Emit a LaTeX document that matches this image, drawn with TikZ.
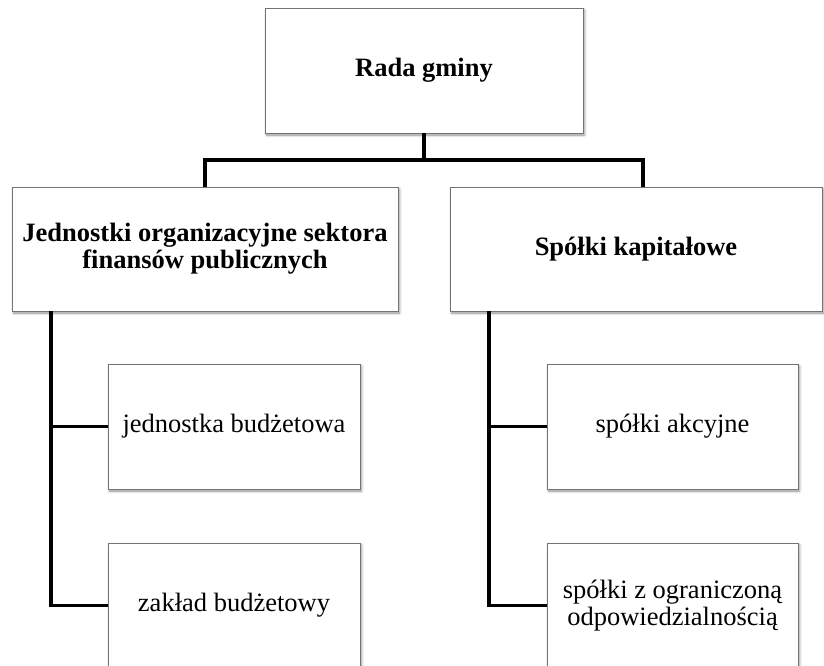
\documentclass[tikz,border=0pt]{standalone}
\usepackage{fontspec}
\setmainfont{Liberation Serif}
\usetikzlibrary{shadows.blur}
\begin{document}
\begin{tikzpicture}[x=1pt,y=-1pt,
  box/.style={draw=black!55, line width=0.9pt, fill=white, inner sep=0pt,
    align=center, font=\fontsize{26.5}{27}\selectfont,
    blur shadow={shadow xshift=1.5pt, shadow yshift=-2pt, shadow blur radius=2.5pt, shadow opacity=45}},
  conn/.style={line width=3.2pt, black}]
\useasboundingbox (0,0) rectangle (824,665);
\node[box, minimum width=318pt, minimum height=125pt, font=\fontsize{26.5}{27}\selectfont\bfseries] (top) at (424,70.5) {Rada gminy};
\node[box, minimum width=386pt, minimum height=124pt, font=\fontsize{26.5}{27}\selectfont\bfseries] (left) at (205,249) {Jednostki organizacyjne sektora\\finansów publicznych};
\node[box, minimum width=372pt, minimum height=124pt, font=\fontsize{26.5}{27}\selectfont\bfseries] (right) at (636,249) {Spółki kapitałowe};
\node[box, minimum width=252pt, minimum height=125pt] (lb1) at (234,426.5) {jednostka budżetowa};
\node[box, minimum width=252pt, minimum height=125pt] (lb2) at (234,605.5) {zakład budżetowy};
\node[box, minimum width=251pt, minimum height=125pt] (rb1) at (672.5,426.5) {spółki akcyjne};
\node[box, minimum width=251pt, minimum height=125pt] (rb2) at (672.5,605.5) {spółki z ograniczoną\\odpowiedzialnością};
\coordinate (busL) at (205,160);
\coordinate (busR) at (643,160);
\coordinate (ltr) at (51,0);
\coordinate (rtr) at (489,0);
\draw[conn] (top.south) -- (top.south |- busL);
\draw[conn] (left.north) -- (busL) -- (busR) -- (busR |- right.north);
\draw[conn] (ltr |- left.south) -- (ltr |- lb2.west) -- (lb2.west);
\draw[conn] (ltr |- lb1.west) -- (lb1.west);
\draw[conn] (rtr |- right.south) -- (rtr |- rb2.west) -- (rb2.west);
\draw[conn] (rtr |- rb1.west) -- (rb1.west);
\end{tikzpicture}
\end{document}
